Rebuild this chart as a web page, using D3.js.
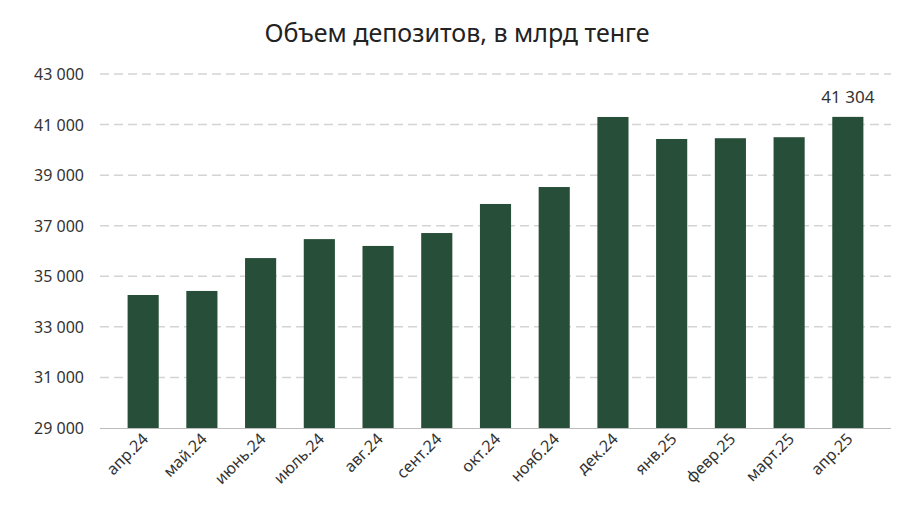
<!DOCTYPE html>
<html><head><meta charset="utf-8">
<script src="https://cdn.jsdelivr.net/npm/d3@7"></script>
<style>body{margin:0;background:#fff;font-family:"Noto Sans",sans-serif}</style>
</head><body><svg id="c" width="914" height="524"></svg>
<script>
// data
var months = ["апр.24","май.24","июнь.24","июль.24","авг.24","сент.24","окт.24","нояб.24","дек.24","янв.25","февр.25","март.25","апр.25"];
var deposits = [34260,34420,35720,36470,36200,36710,37860,38530,41300,40430,40460,40500,41304];
var yTicks = [29000,31000,33000,35000,37000,39000,41000,43000];

var svg = d3.select("#c");
var x = d3.scaleBand().domain(months).range([100,891]).padding(0.47);
var y = d3.scaleLinear().domain([29000,43000]).range([428,74]);
var fmt = function(v){ return d3.format(",")(v).replace(/,/g," "); };

svg.append("text").attr("x",457).attr("y",42).attr("text-anchor","middle")
  .attr("font-size",25).attr("fill","#222").text("Объем депозитов, в млрд тенге");

svg.selectAll(".grid").data(yTicks.slice(1)).enter().append("line")
  .attr("x1",100).attr("x2",891).attr("y1",y).attr("y2",y)
  .attr("stroke","#d4d4d4").attr("stroke-width",1.5).attr("stroke-dasharray","9,5");

svg.selectAll(".yl").data(yTicks).enter().append("text")
  .attr("x",84).attr("y",function(d){return y(d)+6;}).attr("text-anchor","end")
  .attr("font-size",16).attr("fill","#333").text(fmt);

svg.selectAll(".bar").data(deposits).enter().append("rect")
  .attr("x",function(d,i){return x(months[i]);}).attr("width",x.bandwidth())
  .attr("y",y).attr("height",function(d){return 428-y(d);}).attr("fill","#264e38");

svg.append("line").attr("x1",100).attr("x2",891).attr("y1",428.5).attr("y2",428.5)
  .attr("stroke","#bbb").attr("stroke-width",1);

svg.selectAll(".xl").data(months).enter().append("text")
  .attr("transform",function(d){return "translate("+(x(d)+x.bandwidth()/2+6)+",440) rotate(-45)";})
  .attr("text-anchor","end").attr("font-size",16).attr("fill","#333").text(function(d){return d;});

var last = deposits.length-1;
svg.append("text").attr("x",x(months[last])+x.bandwidth()/2).attr("y",y(deposits[last])-14)
  .attr("text-anchor","middle").attr("font-size",17).attr("fill","#333").text(fmt(deposits[last]));
</script></body></html>
